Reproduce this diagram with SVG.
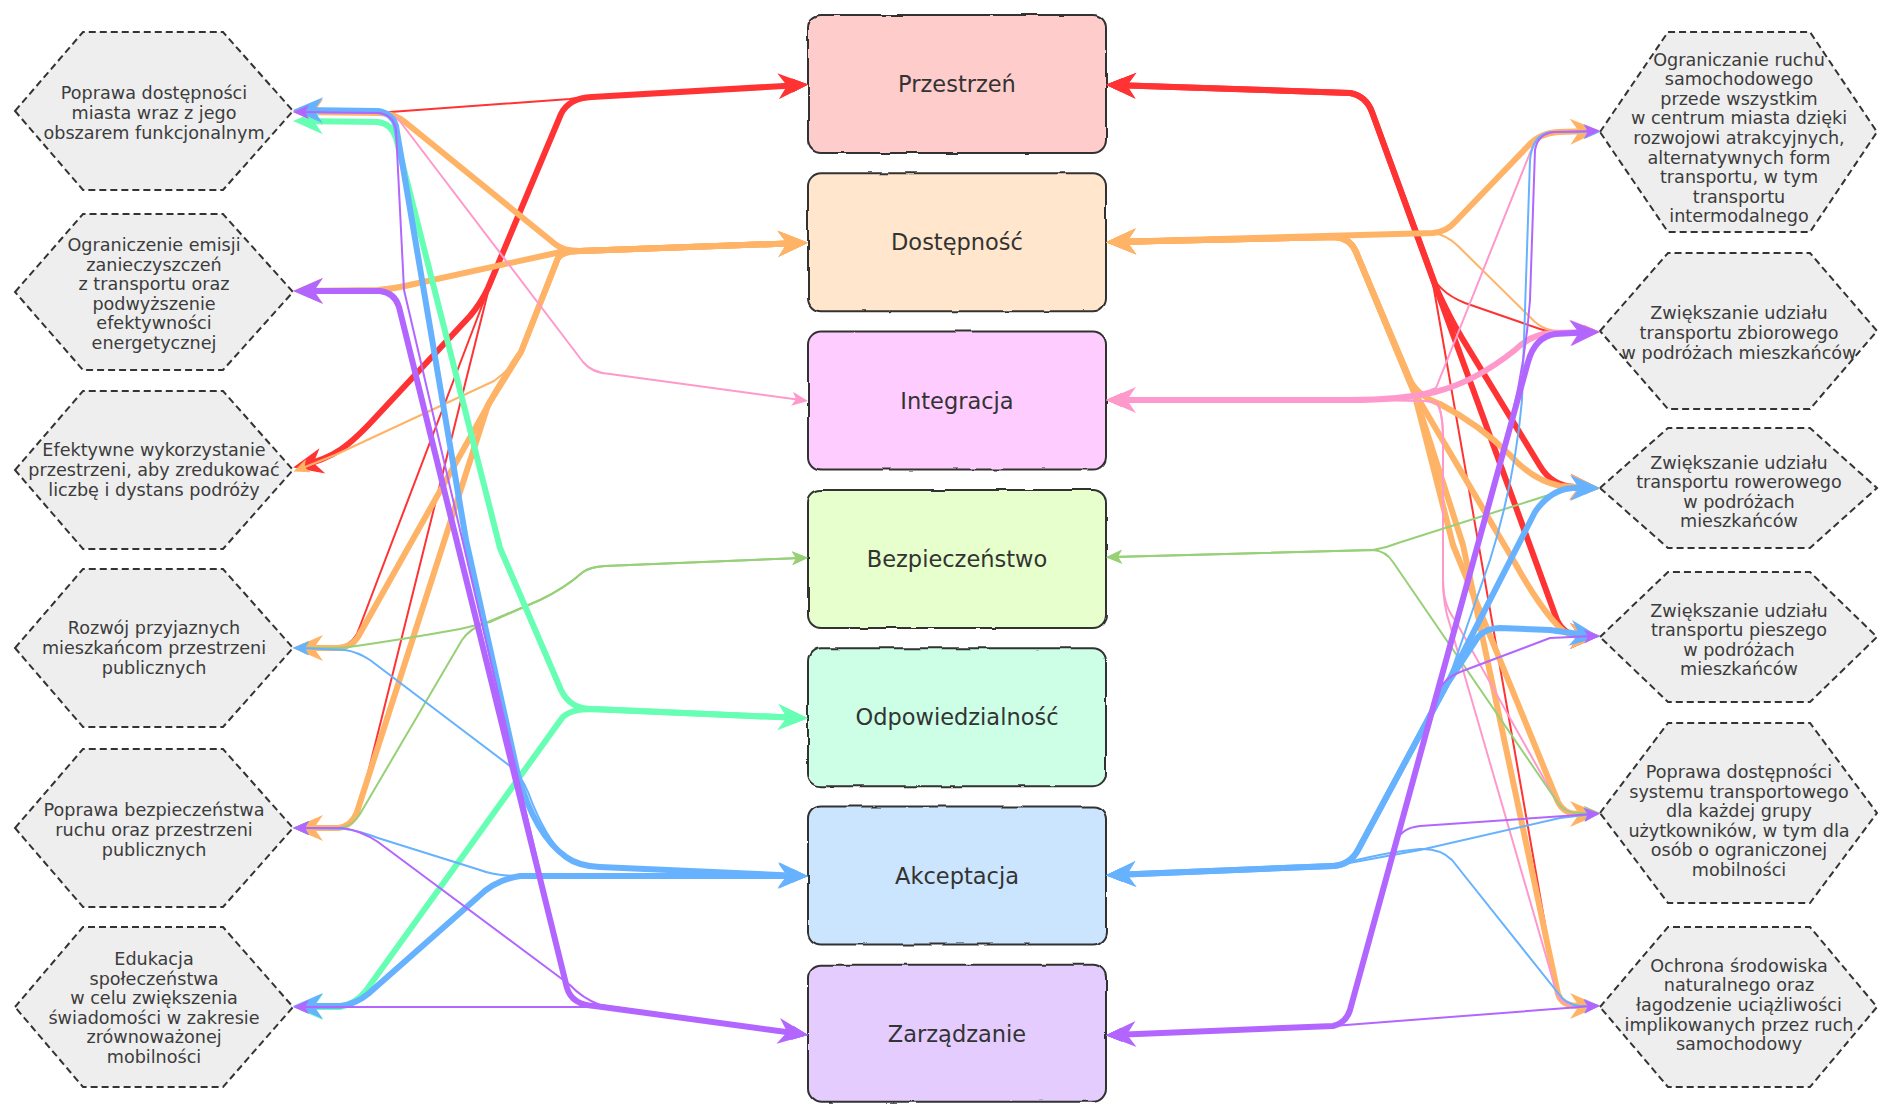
<svg xmlns="http://www.w3.org/2000/svg" width="1879" height="1104" viewBox="0 0 1879 1104">
<style>
.hex{fill:#eeeeee;stroke:#333;stroke-width:2;stroke-dasharray:7 4}
.ht{font-family:"DejaVu Sans",Verdana,sans-serif;font-size:17.6px;fill:#3c3c3c;text-anchor:middle}
.box{stroke:#333;stroke-width:2}
.bt{font-family:"DejaVu Sans",Verdana,sans-serif;font-size:22.5px;fill:#333;text-anchor:middle}
.e{fill:none;stroke-linejoin:round;stroke-linecap:butt}
.k{stroke-width:6}
.t{stroke-width:2}
.red{stroke:#ff3333}.org{stroke:#ffb366}.pnk{stroke:#ff99cc}.grn{stroke:#97d077}.mnt{stroke:#66ffb3}.blu{stroke:#66b2ff}.pur{stroke:#b266ff}
</style>
<defs>
<filter id="rough" x="-5%" y="-5%" width="110%" height="110%">
<feTurbulence type="fractalNoise" baseFrequency="0.04" numOctaves="2" seed="4"/>
<feDisplacementMap in="SourceGraphic" scale="3" xChannelSelector="R" yChannelSelector="G"/>
</filter>
<marker id="kred" viewBox="-24 -14 32 28" refX="0" refY="0" markerWidth="32" markerHeight="28" markerUnits="userSpaceOnUse" orient="auto-start-reverse"><path d="M7,0 L-23,-13 L-14,0 L-23,13 Z" fill="#ff3333"/></marker>
<marker id="korg" viewBox="-24 -14 32 28" refX="0" refY="0" markerWidth="32" markerHeight="28" markerUnits="userSpaceOnUse" orient="auto-start-reverse"><path d="M7,0 L-23,-13 L-14,0 L-23,13 Z" fill="#ffb366"/></marker>
<marker id="kpnk" viewBox="-24 -14 32 28" refX="0" refY="0" markerWidth="32" markerHeight="28" markerUnits="userSpaceOnUse" orient="auto-start-reverse"><path d="M7,0 L-23,-13 L-14,0 L-23,13 Z" fill="#ff99cc"/></marker>
<marker id="kmnt" viewBox="-24 -14 32 28" refX="0" refY="0" markerWidth="32" markerHeight="28" markerUnits="userSpaceOnUse" orient="auto-start-reverse"><path d="M7,0 L-23,-13 L-14,0 L-23,13 Z" fill="#66ffb3"/></marker>
<marker id="kblu" viewBox="-24 -14 32 28" refX="0" refY="0" markerWidth="32" markerHeight="28" markerUnits="userSpaceOnUse" orient="auto-start-reverse"><path d="M7,0 L-23,-13 L-14,0 L-23,13 Z" fill="#66b2ff"/></marker>
<marker id="kpur" viewBox="-24 -14 32 28" refX="0" refY="0" markerWidth="32" markerHeight="28" markerUnits="userSpaceOnUse" orient="auto-start-reverse"><path d="M7,0 L-23,-13 L-14,0 L-23,13 Z" fill="#b266ff"/></marker>
<marker id="tred" viewBox="-10 -8 18 16" refX="0" refY="0" markerWidth="18" markerHeight="16" markerUnits="userSpaceOnUse" orient="auto-start-reverse"><path d="M7,0 L-9,-7 L-5,0 L-9,7 Z" fill="#ff3333"/></marker>
<marker id="torg" viewBox="-10 -8 18 16" refX="0" refY="0" markerWidth="18" markerHeight="16" markerUnits="userSpaceOnUse" orient="auto-start-reverse"><path d="M7,0 L-9,-7 L-5,0 L-9,7 Z" fill="#ffb366"/></marker>
<marker id="tpnk" viewBox="-10 -8 18 16" refX="0" refY="0" markerWidth="18" markerHeight="16" markerUnits="userSpaceOnUse" orient="auto-start-reverse"><path d="M7,0 L-9,-7 L-5,0 L-9,7 Z" fill="#ff99cc"/></marker>
<marker id="tgrn" viewBox="-10 -8 18 16" refX="0" refY="0" markerWidth="18" markerHeight="16" markerUnits="userSpaceOnUse" orient="auto-start-reverse"><path d="M7,0 L-9,-7 L-5,0 L-9,7 Z" fill="#97d077"/></marker>
<marker id="tblu" viewBox="-10 -8 18 16" refX="0" refY="0" markerWidth="18" markerHeight="16" markerUnits="userSpaceOnUse" orient="auto-start-reverse"><path d="M7,0 L-9,-7 L-5,0 L-9,7 Z" fill="#66b2ff"/></marker>
<marker id="tpur" viewBox="-10 -8 18 16" refX="0" refY="0" markerWidth="18" markerHeight="16" markerUnits="userSpaceOnUse" orient="auto-start-reverse"><path d="M7,0 L-9,-7 L-5,0 L-9,7 Z" fill="#b266ff"/></marker>
</defs>
<rect width="1879" height="1104" fill="#ffffff"/>

<g id="node-przestrzen"><rect class="box" x="808" y="15" width="298" height="138" rx="13" fill="#ffcccc" filter="url(#rough)"/><text class="bt" x="957" y="92">Przestrzeń</text></g>
<g id="node-dostepnosc"><rect class="box" x="808" y="173.3" width="298" height="138" rx="13" fill="#ffe6cc" filter="url(#rough)"/><text class="bt" x="957" y="250.3">Dostępność</text></g>
<g id="node-integracja"><rect class="box" x="808" y="331.6" width="298" height="138" rx="13" fill="#ffccff" filter="url(#rough)"/><text class="bt" x="957" y="408.6">Integracja</text></g>
<g id="node-bezpieczenstwo"><rect class="box" x="808" y="490" width="298" height="138" rx="13" fill="#e6ffcc" filter="url(#rough)"/><text class="bt" x="957" y="567">Bezpieczeństwo</text></g>
<g id="node-odpowiedzialnosc"><rect class="box" x="808" y="648.2" width="298" height="138" rx="13" fill="#ccffe6" filter="url(#rough)"/><text class="bt" x="957" y="725.2">Odpowiedzialność</text></g>
<g id="node-akceptacja"><rect class="box" x="808" y="806.5" width="298" height="138" rx="13" fill="#cce5ff" filter="url(#rough)"/><text class="bt" x="957" y="883.5">Akceptacja</text></g>
<g id="node-zarzadzanie"><rect class="box" x="808" y="964.8" width="298" height="137" rx="13" fill="#e5ccff" filter="url(#rough)"/><text class="bt" x="957" y="1041.8">Zarządzanie</text></g>

<g id="node-L1"><polygon class="hex" points="15,111 83,32 223,32 293,111 223,190 83,190"/><text class="ht" x="154" y="99.4"><tspan x="154">Poprawa dostępności</tspan><tspan x="154" dy="19.6">miasta wraz z jego</tspan><tspan x="154" dy="19.6">obszarem funkcjonalnym</tspan></text></g>
<g id="node-L2"><polygon class="hex" points="15,292 83,214 223,214 293,292 223,370 83,370"/><text class="ht" x="154" y="251"><tspan x="154">Ograniczenie emisji</tspan><tspan x="154" dy="19.6">zanieczyszczeń</tspan><tspan x="154" dy="19.6">z transportu oraz</tspan><tspan x="154" dy="19.6">podwyższenie</tspan><tspan x="154" dy="19.6">efektywności</tspan><tspan x="154" dy="19.6">energetycznej</tspan></text></g>
<g id="node-L3"><polygon class="hex" points="15,470 83,391 223,391 293,470 223,549 83,549"/><text class="ht" x="154" y="456.4"><tspan x="154">Efektywne wykorzystanie</tspan><tspan x="154" dy="19.6">przestrzeni, aby zredukować</tspan><tspan x="154" dy="19.6">liczbę i dystans podróży</tspan></text></g>
<g id="node-L4"><polygon class="hex" points="15,648 83,569 223,569 293,648 223,727 83,727"/><text class="ht" x="154" y="634.4"><tspan x="154">Rozwój przyjaznych</tspan><tspan x="154" dy="19.6">mieszkańcom przestrzeni</tspan><tspan x="154" dy="19.6">publicznych</tspan></text></g>
<g id="node-L5"><polygon class="hex" points="15,828 83,749 223,749 293,828 223,907 83,907"/><text class="ht" x="154" y="816.4"><tspan x="154">Poprawa bezpieczeństwa</tspan><tspan x="154" dy="19.6">ruchu oraz przestrzeni</tspan><tspan x="154" dy="19.6">publicznych</tspan></text></g>
<g id="node-L6"><polygon class="hex" points="15,1007 83,927 223,927 293,1007 223,1087 83,1087"/><text class="ht" x="154" y="965"><tspan x="154">Edukacja</tspan><tspan x="154" dy="19.6">społeczeństwa</tspan><tspan x="154" dy="19.6">w celu zwiększenia</tspan><tspan x="154" dy="19.6">świadomości w zakresie</tspan><tspan x="154" dy="19.6">zrównoważonej</tspan><tspan x="154" dy="19.6">mobilności</tspan></text></g>

<g id="node-R1"><polygon class="hex" points="1600,132 1668,32 1810,32 1877,132 1810,232 1668,232"/><text class="ht" x="1739" y="65.6"><tspan x="1739">Ograniczanie ruchu</tspan><tspan x="1739" dy="19.6">samochodowego</tspan><tspan x="1739" dy="19.6">przede wszystkim</tspan><tspan x="1739" dy="19.6">w centrum miasta dzięki</tspan><tspan x="1739" dy="19.6">rozwojowi atrakcyjnych,</tspan><tspan x="1739" dy="19.6">alternatywnych form</tspan><tspan x="1739" dy="19.6">transportu, w tym</tspan><tspan x="1739" dy="19.6">transportu</tspan><tspan x="1739" dy="19.6">intermodalnego</tspan></text></g>
<g id="node-R2"><polygon class="hex" points="1600,331 1668,253 1810,253 1877,331 1810,409 1668,409"/><text class="ht" x="1739" y="319.4"><tspan x="1739">Zwiększanie udziału</tspan><tspan x="1739" dy="19.6">transportu zbiorowego</tspan><tspan x="1739" dy="19.6">w podróżach mieszkańców</tspan></text></g>
<g id="node-R3"><polygon class="hex" points="1600,488 1668,428 1810,428 1877,488 1810,548 1668,548"/><text class="ht" x="1739" y="468.6"><tspan x="1739">Zwiększanie udziału</tspan><tspan x="1739" dy="19.6">transportu rowerowego</tspan><tspan x="1739" dy="19.6">w podróżach</tspan><tspan x="1739" dy="19.6">mieszkańców</tspan></text></g>
<g id="node-R4"><polygon class="hex" points="1600,637 1668,572 1810,572 1877,637 1810,702 1668,702"/><text class="ht" x="1739" y="616.6"><tspan x="1739">Zwiększanie udziału</tspan><tspan x="1739" dy="19.6">transportu pieszego</tspan><tspan x="1739" dy="19.6">w podróżach</tspan><tspan x="1739" dy="19.6">mieszkańców</tspan></text></g>
<g id="node-R5"><polygon class="hex" points="1600,813 1668,723 1810,723 1877,813 1810,903 1668,903"/><text class="ht" x="1739" y="778"><tspan x="1739">Poprawa dostępności</tspan><tspan x="1739" dy="19.6">systemu transportowego</tspan><tspan x="1739" dy="19.6">dla każdej grupy</tspan><tspan x="1739" dy="19.6">użytkowników, w tym dla</tspan><tspan x="1739" dy="19.6">osób o ograniczonej</tspan><tspan x="1739" dy="19.6">mobilności</tspan></text></g>
<g id="node-R6"><polygon class="hex" points="1600,1007 1668,927 1810,927 1877,1007 1810,1087 1668,1087"/><text class="ht" x="1739" y="971.8"><tspan x="1739">Ochrona środowiska</tspan><tspan x="1739" dy="19.6">naturalnego oraz</tspan><tspan x="1739" dy="19.6">łagodzenie uciążliwości</tspan><tspan x="1739" dy="19.6">implikowanych przez ruch</tspan><tspan x="1739" dy="19.6">samochodowy</tspan></text></g>

<g id="connectors">
<!-- red / Przestrzeń -->
<path class="e t red" marker-start="url(#tred)" marker-end="url(#tred)" d="M300,111 L390,112 L570,99 Q578,97 592,97 L801,85"/>
<path class="e t red" marker-start="url(#tred)" marker-end="url(#tred)" d="M300,648 L336,648 Q350,646 357,634 L488,290 L561,114 Q569,98 592,97 L801,85"/>
<path class="e t red" marker-start="url(#tred)" marker-end="url(#tred)" d="M300,828 L338,828 Q352,826 358,813 L488,292 L561,114 Q569,98 592,97 L801,85"/>
<path class="e k red" marker-start="url(#kred)" marker-end="url(#kred)" d="M300,466 C335,458 350,445 375,418 L470,316 Q481,303 488,288 L561,114 Q569,98 592,97 L801,85"/>
<path class="e t red" marker-start="url(#tred)" marker-end="url(#tred)" d="M1113,85 L1350,93 Q1366,96 1372,112 L1428,268 Q1437,292 1465,303 L1540,329 Q1548,332 1560,332 L1593,332"/>
<path class="e t red" marker-start="url(#tred)" marker-end="url(#tred)" d="M1113,85 L1350,93 Q1366,96 1372,112 L1432,278 L1557,993 Q1562,1006 1578,1006 L1593,1006"/>
<path class="e k red" marker-start="url(#kred)" marker-end="url(#kred)" d="M1113,85 L1350,93 Q1366,96 1372,112 L1438,292 Q1450,318 1462,338 L1540,466 Q1552,486 1575,487 L1593,488"/>
<path class="e k red" marker-start="url(#kred)" marker-end="url(#kred)" d="M1113,85 L1350,93 Q1366,96 1372,112 L1557,620 Q1564,635 1580,636 L1593,636"/>
<!-- orange / Dostępność -->
<path class="e k org" marker-start="url(#korg)" marker-end="url(#korg)" d="M300,112 L380,113 Q395,114 405,122 L555,244 Q563,251 580,251 L801,243"/>
<path class="e k org" marker-start="url(#korg)" marker-end="url(#korg)" d="M300,291 L378,290 Q392,289 405,286 L556,253 Q564,251 580,251 L801,243"/>
<path class="e t org" marker-start="url(#torg)" marker-end="url(#korg)" d="M300,469 L335,455 L494,381 Q512,368 521,352 L558,258 Q563,251 580,251 L801,243"/>
<path class="e k org" marker-start="url(#korg)" marker-end="url(#korg)" d="M300,648 L338,648 Q352,647 358,637 L490,402 Q505,378 521,352 L558,258 Q563,251 580,251 L801,243"/>
<path class="e k org" marker-start="url(#korg)" marker-end="url(#korg)" d="M300,828 L338,828 Q352,826 357,812 L488,405 Q503,378 521,352 L558,258 Q563,251 580,251 L801,243"/>
<path class="e k org" marker-start="url(#korg)" marker-end="url(#korg)" d="M1113,242 L1433,233 Q1446,232 1455,222 L1528,146 Q1540,133 1558,132 L1593,131"/>
<path class="e t org" marker-start="url(#torg)" marker-end="url(#torg)" d="M1113,242 L1433,233 Q1447,235 1458,246 L1535,322 Q1545,331 1560,331 L1593,332"/>
<path class="e k org" marker-start="url(#korg)" marker-end="url(#korg)" d="M1113,242 L1335,237 Q1350,238 1356,252 L1410,380 Q1418,396 1440,404 Q1480,425 1510,455 Q1532,480 1560,486 L1593,488"/>
<path class="e k org" marker-start="url(#korg)" marker-end="url(#korg)" d="M1113,242 L1335,237 Q1350,238 1356,252 L1416,395 L1515,563 Q1540,608 1560,628 Q1568,636 1580,636 L1593,636"/>
<path class="e k org" marker-start="url(#korg)" marker-end="url(#korg)" d="M1113,242 L1335,237 Q1350,238 1356,252 L1414,392 L1453,545 L1558,802 Q1564,814 1578,814 L1593,814"/>
<path class="e k org" marker-start="url(#korg)" marker-end="url(#korg)" d="M1113,242 L1335,237 Q1350,238 1356,252 L1414,392 L1463,545 L1558,994 Q1562,1006 1578,1006 L1593,1006"/>
<!-- pink / Integracja -->
<path class="e t pnk" marker-start="url(#tpnk)" marker-end="url(#tpnk)" d="M300,112 L385,113 Q396,115 402,124 L583,362 Q592,373 610,374 L801,400"/>
<path class="e k pnk" marker-start="url(#kpnk)" marker-end="url(#kpnk)" d="M1113,400 L1350,400 Q1400,400 1435,392 Q1475,382 1515,350 Q1530,335 1550,333 L1593,332"/>
<path class="e t pnk" marker-start="url(#tpnk)" marker-end="url(#tpnk)" d="M1113,400 L1350,400 Q1410,400 1436,388 L1532,148 Q1538,133 1555,132 L1593,132"/>
<path class="e t pnk" marker-start="url(#tpnk)" marker-end="url(#tpnk)" d="M1113,400 L1350,400 Q1420,400 1436,402 Q1443,410 1443,440 L1443,580 Q1443,605 1455,620 L1557,802 Q1564,813 1578,813 L1593,813"/>
<path class="e t pnk" marker-start="url(#tpnk)" marker-end="url(#tpnk)" d="M1113,400 L1350,400 Q1420,400 1436,402 Q1443,410 1443,440 L1443,580 Q1443,605 1450,625 L1557,994 Q1562,1005 1578,1006 L1593,1006"/>
<!-- green / Bezpieczeństwo -->
<path class="e t grn" marker-start="url(#tgrn)" marker-end="url(#tgrn)" d="M300,648 L342,648 Q400,640 460,629 L490,622 L540,600 Q565,588 583,572 Q590,567 605,566 L801,558"/>
<path class="e t grn" marker-start="url(#tgrn)" marker-end="url(#tgrn)" d="M300,828 L340,828 Q353,826 360,814 L462,640 Q470,628 488,622 L540,600 Q565,588 583,572 Q590,567 605,566 L801,558"/>
<path class="e t grn" marker-start="url(#tgrn)" marker-end="url(#tgrn)" d="M1113,557 L1373,550 Q1386,548 1398,543 L1555,493 Q1570,488 1593,488"/>
<path class="e t grn" marker-start="url(#tgrn)" marker-end="url(#tgrn)" d="M1113,557 L1373,550 Q1386,551 1393,562 L1558,803 Q1565,813 1578,813 L1593,813"/>
<!-- mint / Odpowiedzialność -->
<path class="e k mnt" marker-start="url(#kmnt)" marker-end="url(#kmnt)" d="M300,121 L378,122 Q392,124 396,138 L500,548 L561,690 Q570,709 592,709 L801,718"/>
<path class="e k mnt" marker-start="url(#kmnt)" marker-end="url(#kmnt)" d="M300,1007 L340,1007 Q355,1004 365,992 L562,718 Q570,709 592,709 L801,718"/>
<!-- blue / Akceptacja -->
<path class="e t blu" marker-start="url(#tblu)" marker-end="url(#tblu)" d="M300,648 L345,650 Q358,652 370,660 L510,766 Q522,777 528,792 Q545,838 566,857 Q578,866 600,867 L801,876"/>
<path class="e t blu" marker-start="url(#tblu)" marker-end="url(#tblu)" d="M300,828 L345,829 Q360,831 378,838 L480,870 Q495,876 520,876 L801,876"/>
<path class="e k blu" marker-start="url(#kblu)" marker-end="url(#kblu)" d="M300,1006 L340,1006 Q356,1004 368,994 L478,897 Q495,880 520,876 L801,876"/>
<path class="e k blu" marker-start="url(#kblu)" marker-end="url(#kblu)" d="M300,110 L378,111 Q392,113 396,126 L466,540 L518,775 Q535,835 566,857 Q578,866 600,867 L801,876"/>
<path class="e t blu" marker-start="url(#tblu)" marker-end="url(#tblu)" d="M1113,875 L1333,866 Q1350,865 1358,850 L1447,684 L1490,560 Q1515,480 1522,400 L1530,160 Q1533,133 1552,132 L1593,132"/>
<path class="e t blu" marker-start="url(#tblu)" marker-end="url(#tblu)" d="M1113,875 L1333,866 L1420,850 Q1500,832 1560,818 L1593,814"/>
<path class="e t blu" marker-start="url(#tblu)" marker-end="url(#tblu)" d="M1113,875 L1333,866 Q1385,852 1420,849 Q1440,848 1452,860 L1558,993 Q1566,1005 1580,1006 L1593,1006"/>
<path class="e k blu" marker-start="url(#kblu)" marker-end="url(#kblu)" d="M1113,875 L1333,866 Q1350,865 1358,850 L1447,684 L1535,512 Q1550,490 1572,488 L1593,488"/>
<path class="e k blu" marker-start="url(#kblu)" marker-end="url(#kblu)" d="M1113,875 L1333,866 Q1350,865 1358,850 L1447,684 L1478,637 Q1486,628 1500,628 L1550,630 L1593,636"/>
<!-- purple / Zarządzanie -->
<path class="e t pur" marker-start="url(#tpur)" marker-end="url(#tpur)" d="M300,112 L380,113 Q394,116 396,130 L404,290 L567,988 Q572,1005 595,1006 L801,1034"/>
<path class="e k pur" marker-start="url(#kpur)" marker-end="url(#kpur)" d="M300,291 L380,291 Q395,293 399,307 L567,988 Q572,1005 595,1006 L801,1034"/>
<path class="e t pur" marker-start="url(#tpur)" marker-end="url(#tpur)" d="M300,828 L342,828 Q360,830 378,842 L570,985 Q582,998 600,1005 L801,1034"/>
<path class="e t pur" marker-start="url(#tpur)" marker-end="url(#tpur)" d="M300,1007 L585,1007 Q595,1007 605,1008 L801,1034"/>
<path class="e t pur" marker-start="url(#tpur)" marker-end="url(#tpur)" d="M1113,1035 L1333,1026 Q1346,1023 1350,1010 L1505,445 Q1525,370 1530,300 L1535,150 Q1538,133 1555,132 L1593,131"/>
<path class="e t pur" marker-start="url(#tpur)" marker-end="url(#tpur)" d="M1113,1035 L1333,1026 Q1346,1023 1350,1010 L1438,692 Q1444,678 1460,672 L1550,638 L1593,636"/>
<path class="e t pur" marker-start="url(#tpur)" marker-end="url(#tpur)" d="M1113,1035 L1333,1026 Q1346,1023 1350,1010 L1397,840 Q1402,828 1420,826 L1593,814"/>
<path class="e t pur" marker-start="url(#tpur)" marker-end="url(#tpur)" d="M1113,1035 L1333,1026 L1593,1006"/>
<path class="e k pur" marker-start="url(#kpur)" marker-end="url(#kpur)" d="M1113,1035 L1333,1026 Q1346,1023 1350,1010 L1528,362 Q1535,337 1555,334 L1593,332"/>
</g>
</svg>
